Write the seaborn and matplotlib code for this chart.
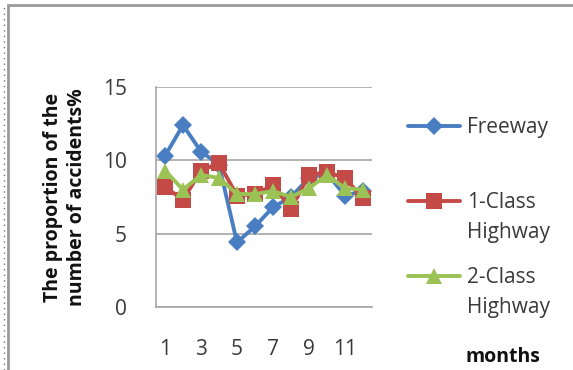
import matplotlib
matplotlib.use("Agg")
import matplotlib.pyplot as plt
from matplotlib.patches import Rectangle
from matplotlib.lines import Line2D
import seaborn as sns
import pandas as pd

months = list(range(1, 13))
freeway = [10.3, 12.4, 10.6, 9.7, 4.4, 5.5, 6.8, 7.5, 8.8, 9.1, 7.6, 7.9]
class1_highway = [8.2, 7.3, 9.3, 9.8, 7.6, 7.7, 8.3, 6.7, 9.0, 9.2, 8.8, 7.4]
class2_highway = [9.3, 8.0, 9.0, 8.8, 7.7, 7.7, 7.9, 7.5, 8.1, 9.0, 8.1, 8.0]
series_names = ["Freeway", "1-Class Highway", "2-Class Highway"]
x_ticks = [1, 3, 5, 7, 9, 11]
y_ticks = [0, 5, 10, 15]

df = pd.DataFrame({
    "month": months * 3,
    "value": freeway + class1_highway + class2_highway,
    "series": sum([[n] * 12 for n in series_names], []),
})

sns.set_theme(style="white")
plt.rcParams["font.family"] = ["Open Sans", "DejaVu Sans"]

W, H = 573, 370
fig = plt.figure(figsize=(W / 100, H / 100), dpi=100)
ax = fig.add_axes([156 / W, 1 - 307 / H, (372 - 156) / W, (307 - 87) / H])

palette = {series_names[0]: "#4A7EC2", series_names[1]: "#C44A47", series_names[2]: "#9BC255"}
markers = {series_names[0]: "D", series_names[1]: "s", series_names[2]: "^"}
sizes = {series_names[0]: 9.5, series_names[1]: 11, series_names[2]: 11}

for name in series_names:
    sub = df[df["series"] == name]
    sns.lineplot(data=sub, x="month", y="value", ax=ax, color=palette[name],
                 marker=markers[name], markersize=sizes[name], markeredgewidth=0,
                 linewidth=2.8, label=name, legend=False)

ax.set_xlim(0.5, 12.5)
ax.set_ylim(0, 15)
ax.set_yticks(y_ticks)
ax.set_xticks(x_ticks)
ax.set_xticklabels([str(t) for t in x_ticks])
ax.yaxis.grid(True, color="#A6A6A6", linewidth=1.2)
ax.xaxis.grid(False)
for side in ["top", "right"]:
    ax.spines[side].set_visible(False)
for side in ["left", "bottom"]:
    ax.spines[side].set_color("#A6A6A6")
    ax.spines[side].set_linewidth(1.2)
ax.tick_params(axis="both", length=0, labelsize=15, colors="#3A3A3A")
ax.tick_params(axis="y", pad=21)
ax.tick_params(axis="x", pad=23)
ax.set_xlabel("")
ax.set_ylabel("")

fig.text(65 / W, 1 - 197 / H, "The proportion of the\nnumber of accidents%",
         rotation=90, fontsize=14, fontweight="bold", color="#111111",
         ha="center", va="center", linespacing=1.33, multialignment="center")

# legend: one row per series, second word on its own line below
handles, labels = ax.get_legend_handles_labels()
first_words = [lab.split(" ")[0] for lab in labels]
leg = fig.legend(handles, first_words, loc="upper left",
                 bbox_to_anchor=(408 / W, 1 - 117 / H), borderaxespad=0,
                 frameon=False, fontsize=15, handlelength=2.5, labelspacing=2.6,
                 handletextpad=0.34, borderpad=0, labelcolor="#3A3A3A")

fig.canvas.draw()
renderer = fig.canvas.get_renderer()
inv = fig.transFigure.inverted()
for txt, lab in zip(leg.get_texts(), labels):
    parts = lab.split(" ")
    if len(parts) > 1:
        bb = txt.get_window_extent(renderer)
        x0, y0 = inv.transform((bb.x0, bb.y0 - 30))
        fig.text(x0, y0, parts[1], fontsize=15, color="#3A3A3A", ha="left", va="bottom")

fig.text(503 / W, 1 - 357 / H, "months", fontsize=14, fontweight="bold", color="#111111",
         ha="center", va="center")

fig.patches.append(Rectangle((8 / W, -0.01), 1.0, 1 - 5 / H + 0.01, transform=fig.transFigure,
                             fill=False, edgecolor="#9A9A9A", linewidth=2))
fig.add_artist(Line2D([4 / W, 4 / W], [0, 1 - 6 / H], transform=fig.transFigure,
                      color="#777777", linewidth=1, linestyle=(0, (1, 3))))

fig.savefig("out.png", dpi=100)
